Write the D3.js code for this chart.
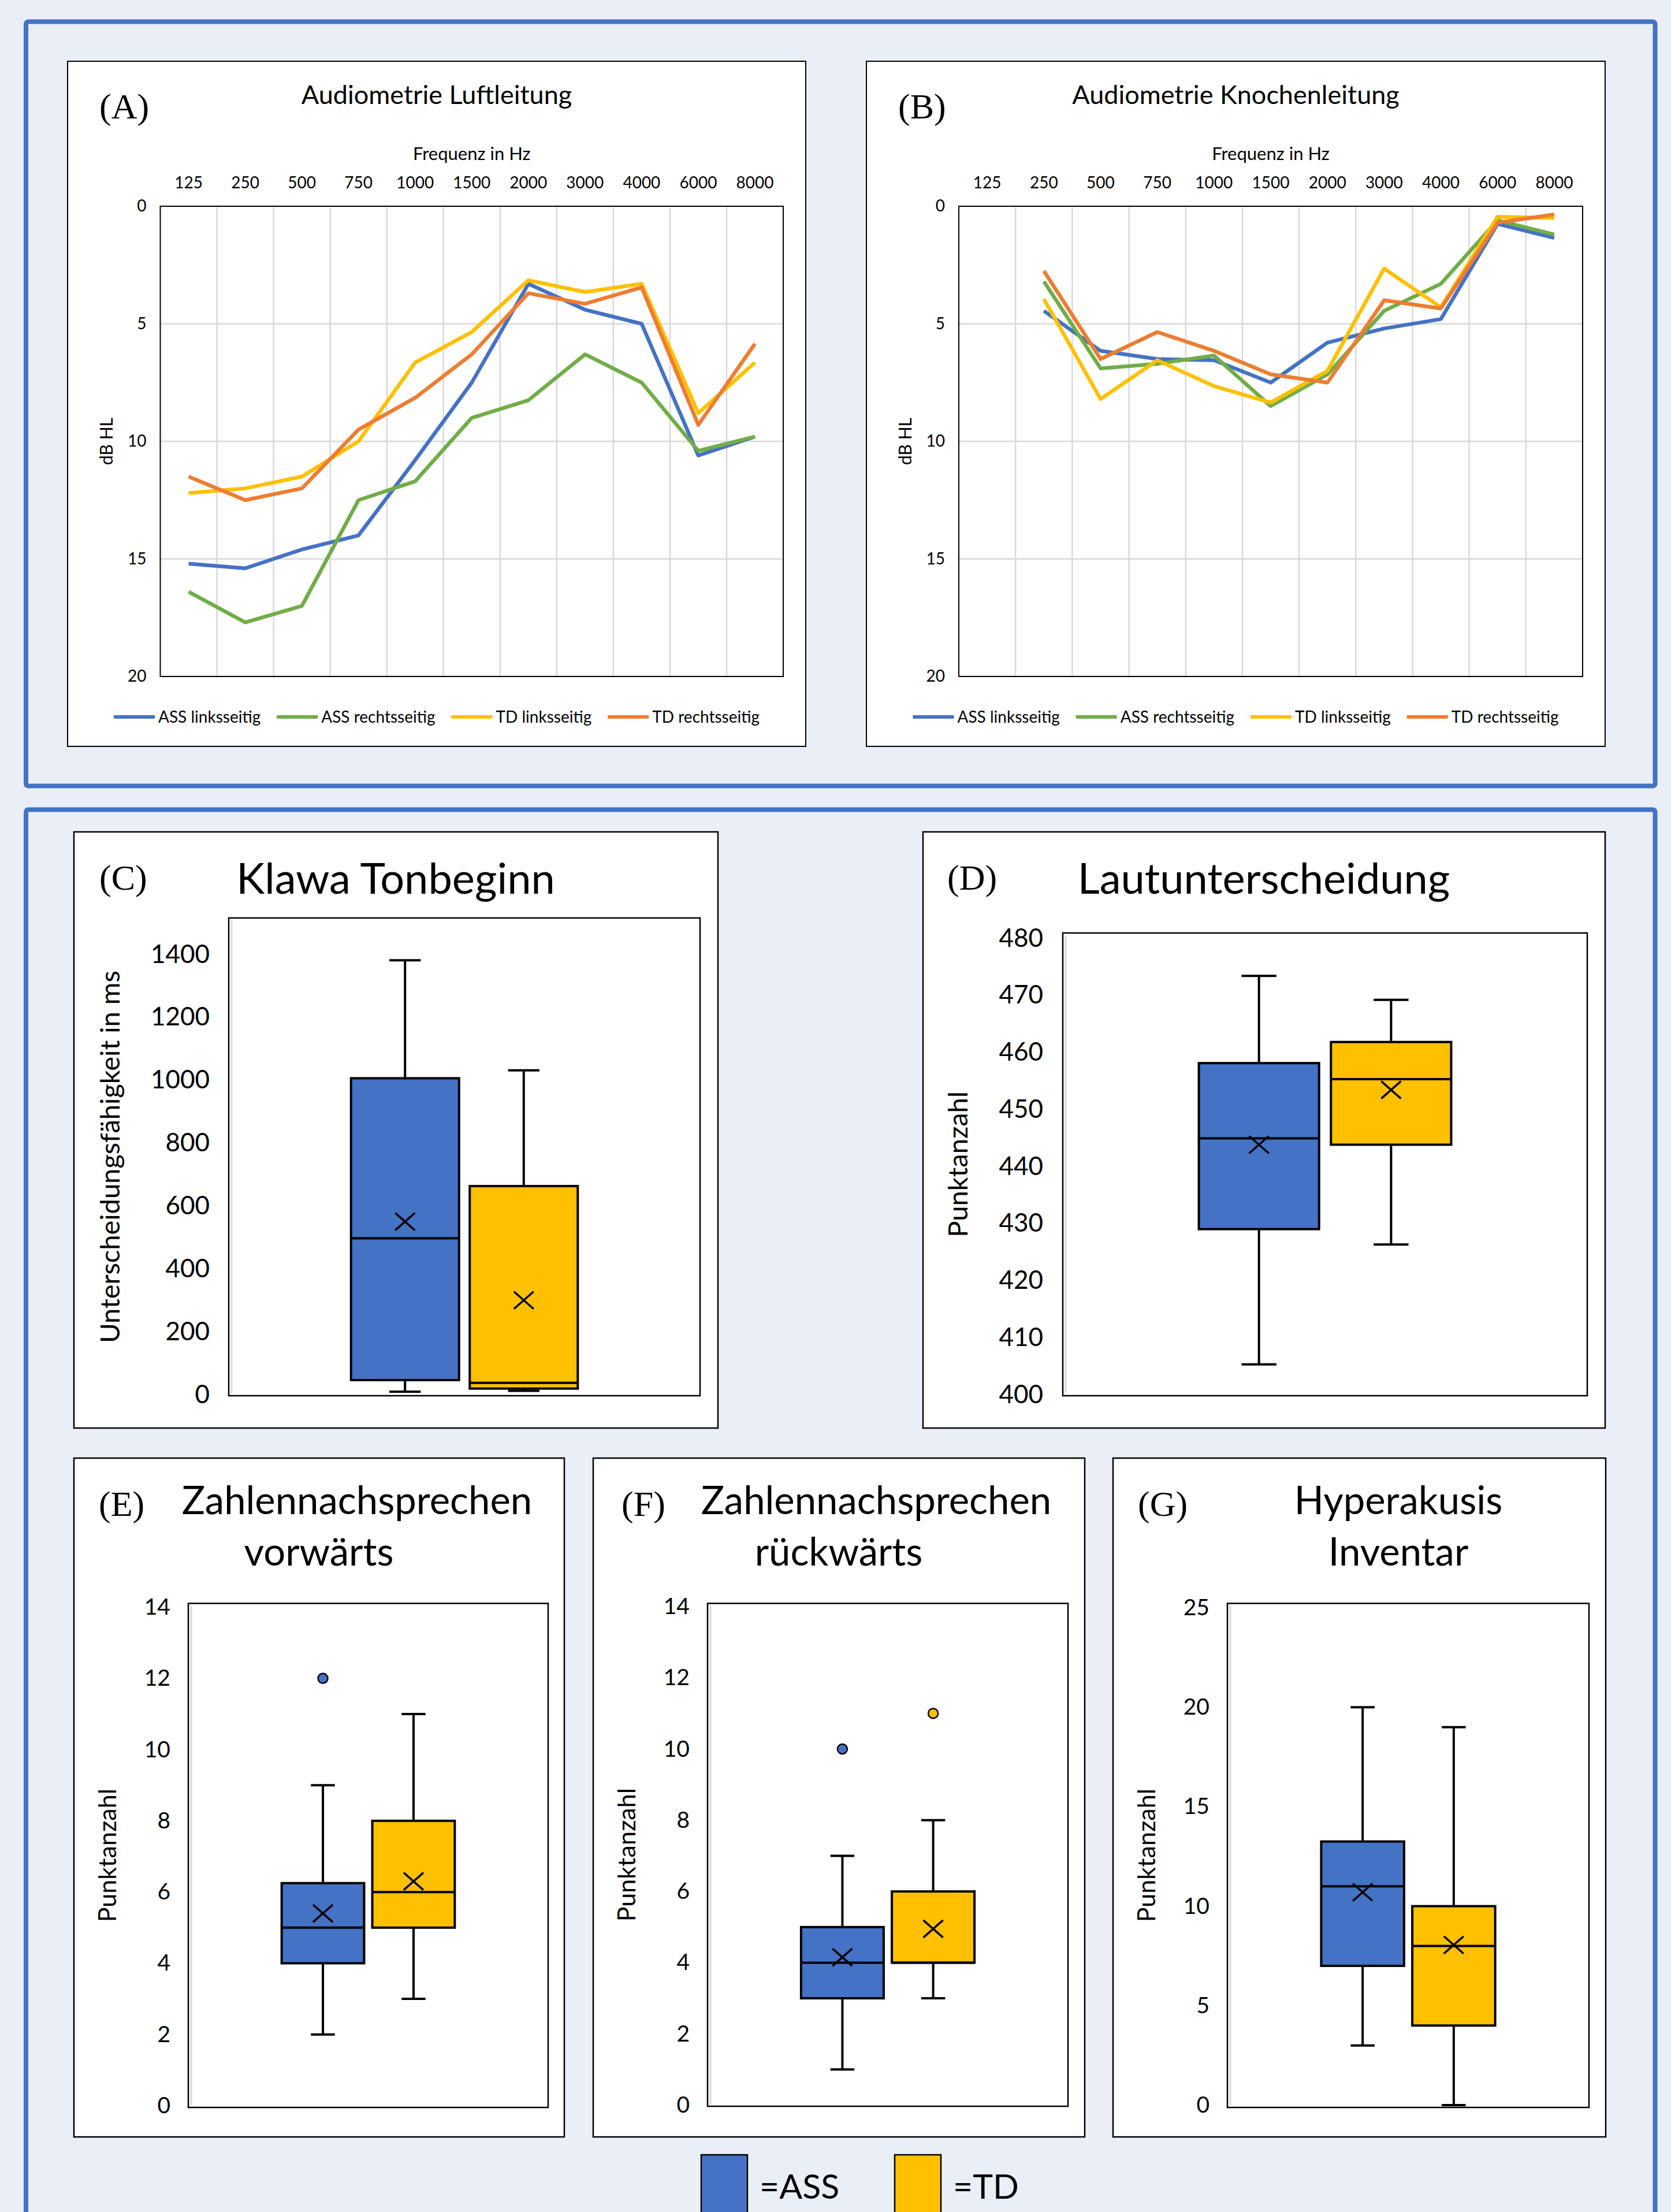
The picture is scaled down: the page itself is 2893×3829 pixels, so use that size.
<!DOCTYPE html>
<html>
<head>
<meta charset="utf-8">
<script src="https://cdn.jsdelivr.net/npm/d3@7"></script>
<style>
  body { margin: 0; background: #eaeff7; }
  svg { display: block; }
  text { font-family: Lato, "Noto Sans", sans-serif; fill: #000; }
  .serif { font-family: "Liberation Serif", "Times New Roman", serif; }
</style>
</head>
<body>
<div id="chart"></div>
<script>
const width = 2893
const height = 3829

// Audiometrie (dB HL per frequency)
const freqs = ["125", "250", "500", "750", "1000", "1500", "2000", "3000", "4000", "6000", "8000"]
const lineSeries = ["ASS linksseitig", "ASS rechtsseitig", "TD linksseitig", "TD rechtsseitig"]
const lineColors = ["#4472c4", "#70ad47", "#ffc000", "#ed7d31"]
const dbTicks = [0, 5, 10, 15, 20]

const luftAssL = [15.2, 15.4, 14.6, 14.0, 10.8, 7.5, 3.3, 4.4, 5.0, 10.6, 9.8]
const luftAssR = [16.4, 17.7, 17.0, 12.5, 11.7, 9.0, 8.25, 6.3, 7.5, 10.4, 9.8]
const luftTdL = [12.2, 12.0, 11.5, 10.0, 6.65, 5.35, 3.15, 3.65, 3.3, 8.8, 6.65]
const luftTdR = [11.5, 12.5, 12.0, 9.5, 8.15, 6.3, 3.7, 4.15, 3.45, 9.3, 5.85]

const knochAssL = [null, 4.45, 6.15, 6.5, 6.55, 7.5, 5.8, 5.2, 4.8, 0.75, 1.35]
const knochAssR = [null, 3.2, 6.9, 6.7, 6.35, 8.5, 7.15, 4.45, 3.3, 0.6, 1.2]
const knochTdL = [null, 3.95, 8.2, 6.55, 7.65, 8.35, 7.0, 2.65, 4.3, 0.45, 0.5]
const knochTdR = [null, 2.75, 6.5, 5.35, 6.15, 7.15, 7.5, 4.0, 4.35, 0.7, 0.35]

// Boxplots: [min, q1, median, q3, max]
const groups = ["ASS", "TD"]
const groupColors = ["#4472c4", "#ffc000"]

const klawaASS = [9, 46, 497, 1006, 1381]
const klawaTD = [12, 19, 37, 663, 1031]
const klawaMean = [550, 300]
const klawaTicks = [0, 200, 400, 600, 800, 1000, 1200, 1400]

const lautASS = [405.3, 429, 444.9, 458.1, 473.4]
const lautTD = [426.3, 443.8, 455.3, 461.8, 469.2]
const lautMean = [443.8, 453.4]
const lautTicks = [400, 410, 420, 430, 440, 450, 460, 470, 480]

const vorASS = [2, 4, 5, 6.25, 9]
const vorTD = [3, 5, 6, 8, 11]
const vorMean = [5.4, 6.3]
const vorOutliers = [[12], []]

const rueckASS = [1, 3, 4, 5, 7]
const rueckTD = [3, 4, 4, 6, 8]
const rueckMean = [4.15, 4.95]
const rueckOutliers = [[10], [11]]
const zahlTicks = [0, 2, 4, 6, 8, 10, 12, 14]

const hyperASS = [3, 7, 11, 13.25, 20]
const hyperTD = [0, 4, 8, 10, 19]
const hyperMean = [10.7, 8.05]
const hyperTicks = [0, 5, 10, 15, 20, 25]

let svg = d3.select("#chart")
  .append("svg")
  .attr("width", width)
  .attr("height", height)

svg.append("rect")
  .attr("width", width)
  .attr("height", height)
  .attr("fill", "#eaeff7")

// blue outer frames
svg.append("rect")
  .attr("x", 45).attr("y", 37.5)
  .attr("width", 2820.5).attr("height", 1323)
  .attr("rx", 4)
  .attr("fill", "none").attr("stroke", "#4472c4").attr("stroke-width", 8)

svg.append("rect")
  .attr("x", 45).attr("y", 1401.5)
  .attr("width", 2820.5).attr("height", 2500)
  .attr("rx", 4)
  .attr("fill", "none").attr("stroke", "#4472c4").attr("stroke-width", 8)

function linePanel(cfg) {
  let g = svg.append("g")
  let [pl, pt, pr, pb] = cfg.panel
  let [l, t, r, b] = cfg.plot

  g.append("rect")
    .attr("x", pl).attr("y", pt)
    .attr("width", pr - pl).attr("height", pb - pt)
    .attr("fill", "#fff").attr("stroke", "#000").attr("stroke-width", 2)

  let x = d3.scaleBand().domain(freqs).range([l, r])
  let y = d3.scaleLinear().domain([0, 20]).range([t, b])

  // grid
  g.append("g").selectAll("line")
    .data(freqs.slice(1))
    .enter().append("line")
    .attr("x1", d => x(d)).attr("x2", d => x(d))
    .attr("y1", t).attr("y2", b)
    .attr("stroke", "#d9d9d9").attr("stroke-width", 2.5)
  g.append("g").selectAll("line")
    .data(dbTicks.slice(1, -1))
    .enter().append("line")
    .attr("x1", l).attr("x2", r)
    .attr("y1", d => y(d)).attr("y2", d => y(d))
    .attr("stroke", "#d9d9d9").attr("stroke-width", 2.5)

  g.append("rect")
    .attr("x", l).attr("y", t)
    .attr("width", r - l).attr("height", b - t)
    .attr("fill", "none").attr("stroke", "#000").attr("stroke-width", 2)

  // axes
  let yAxis = g.append("g")
    .attr("transform", "translate(" + (l - 21) + ",0)")
    .call(d3.axisLeft(y).tickValues(dbTicks).tickSize(0))
  yAxis.select(".domain").remove()
  yAxis.selectAll("text").style("font-size", "28px").style("font-family", "Lato")

  let xAxis = g.append("g")
    .attr("transform", "translate(0," + (t - 28) + ")")
    .call(d3.axisTop(x).tickSize(0))
  xAxis.select(".domain").remove()
  xAxis.selectAll("text").style("font-size", "28px").style("font-family", "Lato")

  g.append("text")
    .attr("x", (l + r) / 2).attr("y", t - 80)
    .attr("text-anchor", "middle")
    .style("font-size", "31px")
    .text("Frequenz in Hz")

  g.append("text")
    .attr("transform", "translate(" + (l - 93) + "," + ((t + b) / 2) + ") rotate(-90)")
    .attr("text-anchor", "middle").attr("dy", "0.35em")
    .style("font-size", "30px")
    .text("dB HL")

  g.append("text")
    .attr("x", (pl + pr) / 2).attr("y", pt + 74)
    .attr("text-anchor", "middle")
    .style("font-size", "45px")
    .text(cfg.title)

  g.append("text")
    .attr("class", "serif")
    .attr("x", pl + 55).attr("y", pt + 99)
    .style("font-size", "62px")
    .text(cfg.letter)

  // lines
  let line = d3.line()
    .defined(d => d != null)
    .x((d, i) => x(freqs[i]) + x.bandwidth() / 2)
    .y(d => y(d))

  cfg.series.forEach((s, i) => {
    g.append("path")
      .datum(s)
      .attr("d", line)
      .attr("fill", "none")
      .attr("stroke", lineColors[i])
      .attr("stroke-width", 6.5)
      .attr("stroke-linejoin", "round")
  })

  // legend
  let leg = g.append("g")
  let items = lineSeries.map((name, i) => {
    let it = leg.append("g")
    it.append("line")
      .attr("x1", 0).attr("x2", 71)
      .attr("stroke", lineColors[i]).attr("stroke-width", 6)
    let tx = it.append("text")
      .attr("x", 77).attr("dy", "0.35em")
      .style("font-size", "28px")
      .text(name)
    return { it: it, w: 77 + tx.node().getComputedTextLength() }
  })
  let total = d3.sum(items, d => d.w) + 28 * (items.length - 1)
  let cx = (pl + pr) / 2 - total / 2
  items.forEach(d => {
    d.it.attr("transform", "translate(" + cx + "," + cfg.legendY + ")")
    cx += d.w + 28
  })
}

function boxPanel(cfg) {
  let g = svg.append("g")
  let [pl, pt, pr, pb] = cfg.panel
  let [l, t, r, b] = cfg.frame

  g.append("rect")
    .attr("x", pl).attr("y", pt)
    .attr("width", pr - pl).attr("height", pb - pt)
    .attr("fill", "#fff").attr("stroke", "#000").attr("stroke-width", 2.5)

  g.append("rect")
    .attr("x", l).attr("y", t)
    .attr("width", r - l).attr("height", b - t)
    .attr("fill", "#fff").attr("stroke", "#000").attr("stroke-width", 2.5)
  g.append("line")
    .attr("x1", l + 5).attr("x2", l + 5)
    .attr("y1", t + 4).attr("y2", b - 4)
    .attr("stroke", "#d9d9d9").attr("stroke-width", 3)

  let y = d3.scaleLinear()
    .domain(d3.extent(cfg.ticks))
    .range(cfg.axisRange)

  let yAxis = g.append("g")
    .attr("transform", "translate(" + cfg.labelRight + ",0)")
    .call(d3.axisLeft(y).tickValues(cfg.ticks).tickSize(0).tickPadding(0).tickFormat(d3.format("d")))
  yAxis.select(".domain").remove()
  yAxis.selectAll("text")
    .style("font-size", cfg.tickSize + "px")
    .style("font-family", "Lato")

  g.append("text")
    .attr("transform", "translate(" + cfg.yTitleX + "," + ((t + b) / 2) + ") rotate(-90)")
    .attr("text-anchor", "middle").attr("dy", "0.35em")
    .style("font-size", cfg.yTitleSize + "px")
    .text(cfg.yTitle)

  cfg.title.forEach(tl => {
    g.append("text")
      .attr("x", tl.x).attr("y", tl.y)
      .attr("text-anchor", "middle")
      .style("font-size", cfg.titleSize + "px")
      .text(tl.text)
  })

  g.append("text")
    .attr("class", "serif")
    .attr("x", cfg.letterX).attr("y", cfg.letterY)
    .style("font-size", "62px")
    .text(cfg.letter)

  let x = d3.scaleBand()
    .domain(groups)
    .range([l, r])
    .paddingInner(0.09)
    .paddingOuter(1.03)
  let bw = x.bandwidth()
  let cap = bw * 0.29

  groups.forEach((grp, i) => {
    let s = cfg.stats[i]
    let cx = x(grp) + bw / 2
    let bg = g.append("g")
    // whiskers
    bg.selectAll(".whisker")
      .data([[s[0], s[1]], [s[3], s[4]]])
      .enter().append("line")
      .attr("x1", cx).attr("x2", cx)
      .attr("y1", d => y(d[0])).attr("y2", d => y(d[1]))
      .attr("stroke", "#000").attr("stroke-width", 4)
    bg.selectAll(".cap")
      .data([s[0], s[4]])
      .enter().append("line")
      .attr("x1", cx - cap / 2).attr("x2", cx + cap / 2)
      .attr("y1", d => y(d)).attr("y2", d => y(d))
      .attr("stroke", "#000").attr("stroke-width", 4)
    bg.append("rect")
      .attr("x", x(grp)).attr("width", bw)
      .attr("y", y(s[3])).attr("height", y(s[1]) - y(s[3]))
      .attr("fill", groupColors[i])
      .attr("stroke", "#000").attr("stroke-width", 4)
    bg.append("line")
      .attr("x1", x(grp)).attr("x2", x(grp) + bw)
      .attr("y1", y(s[2])).attr("y2", y(s[2]))
      .attr("stroke", "#000").attr("stroke-width", 4)
    // mean
    let my = y(cfg.means[i])
    bg.append("path")
      .attr("d", "M" + (cx - 17) + "," + (my - 15) + "L" + (cx + 17) + "," + (my + 15) +
                 "M" + (cx - 17) + "," + (my + 15) + "L" + (cx + 17) + "," + (my - 15))
      .attr("stroke", "#000").attr("stroke-width", 3.5).attr("fill", "none")
    // outliers
    bg.selectAll("circle")
      .data(cfg.outliers[i])
      .enter().append("circle")
      .attr("cx", cx).attr("cy", d => y(d))
      .attr("r", 8.5)
      .attr("fill", groupColors[i])
      .attr("stroke", "#000").attr("stroke-width", 2.5)
  })
}

linePanel({
  panel: [117, 106, 1395, 1292],
  plot: [277.5, 357, 1356, 1171],
  title: "Audiometrie Luftleitung",
  letter: "(A)",
  legendY: 1241,
  series: [luftAssL, luftAssR, luftTdL, luftTdR]
})

linePanel({
  panel: [1500, 106, 2779, 1292],
  plot: [1660, 357, 2740, 1171],
  title: "Audiometrie Knochenleitung",
  letter: "(B)",
  legendY: 1241,
  series: [knochAssL, knochAssR, knochTdL, knochTdR]
})

boxPanel({
  panel: [128, 1440, 1243, 2472],
  frame: [396, 1589, 1212, 2416],
  ticks: klawaTicks, axisRange: [2414, 1652],
  labelRight: 363, tickSize: 44,
  yTitle: "Unterscheidungsfähigkeit in ms", yTitleX: 191, yTitleSize: 47,
  title: [{ text: "Klawa Tonbeginn", x: 685, y: 1547 }], titleSize: 74,
  letter: "(C)", letterX: 172, letterY: 1540,
  stats: [klawaASS, klawaTD], means: klawaMean, outliers: [[], []]
})

boxPanel({
  panel: [1598, 1440, 2779, 2472],
  frame: [1840, 1615, 2748, 2416],
  ticks: lautTicks, axisRange: [2414, 1624],
  labelRight: 1806, tickSize: 44,
  yTitle: "Punktanzahl", yTitleX: 1659, yTitleSize: 47,
  title: [{ text: "Lautunterscheidung", x: 2188, y: 1547 }], titleSize: 74,
  letter: "(D)", letterX: 1640, letterY: 1540,
  stats: [lautASS, lautTD], means: lautMean, outliers: [[], []]
})

boxPanel({
  panel: [128, 2524, 977, 3699],
  frame: [326, 2775.5, 949, 3648],
  ticks: zahlTicks, axisRange: [3645, 2782],
  labelRight: 295, tickSize: 39,
  yTitle: "Punktanzahl", yTitleX: 186, yTitleSize: 43,
  title: [{ text: "Zahlennachsprechen", x: 618, y: 2621 }, { text: "vorwärts", x: 552, y: 2710 }], titleSize: 67,
  letter: "(E)", letterX: 171, letterY: 2624,
  stats: [vorASS, vorTD], means: vorMean, outliers: vorOutliers
})

boxPanel({
  panel: [1027, 2524, 1878, 3699],
  frame: [1225, 2775.5, 1849, 3646],
  ticks: zahlTicks, axisRange: [3644, 2781],
  labelRight: 1194, tickSize: 39,
  yTitle: "Punktanzahl", yTitleX: 1085, yTitleSize: 43,
  title: [{ text: "Zahlennachsprechen", x: 1517, y: 2621 }, { text: "rückwärts", x: 1452, y: 2710 }], titleSize: 67,
  letter: "(F)", letterX: 1076, letterY: 2624,
  stats: [rueckASS, rueckTD], means: rueckMean, outliers: rueckOutliers
})

boxPanel({
  panel: [1927, 2524, 2780, 3699],
  frame: [2125, 2775.5, 2751, 3648],
  ticks: hyperTicks, axisRange: [3644, 2783],
  labelRight: 2094, tickSize: 39,
  yTitle: "Punktanzahl", yTitleX: 1985, yTitleSize: 43,
  title: [{ text: "Hyperakusis", x: 2421, y: 2621 }, { text: "Inventar", x: 2421, y: 2710 }], titleSize: 67,
  letter: "(G)", letterX: 1970, letterY: 2624,
  stats: [hyperASS, hyperTD], means: hyperMean, outliers: [[], []]
})

// group legend at the bottom
let legend = svg.append("g").attr("id", "legend")
let legendX = [1214, 1549]
groups.forEach((grp, i) => {
  legend.append("rect")
    .attr("x", legendX[i]).attr("y", 3730)
    .attr("width", 80).attr("height", 120)
    .attr("fill", groupColors[i])
    .attr("stroke", "#000").attr("stroke-width", 2.5)
  legend.append("text")
    .attr("x", legendX[i] + 101).attr("y", 3806)
    .style("font-size", "59px")
    .text("=" + grp)
})
</script>
</body>
</html>
